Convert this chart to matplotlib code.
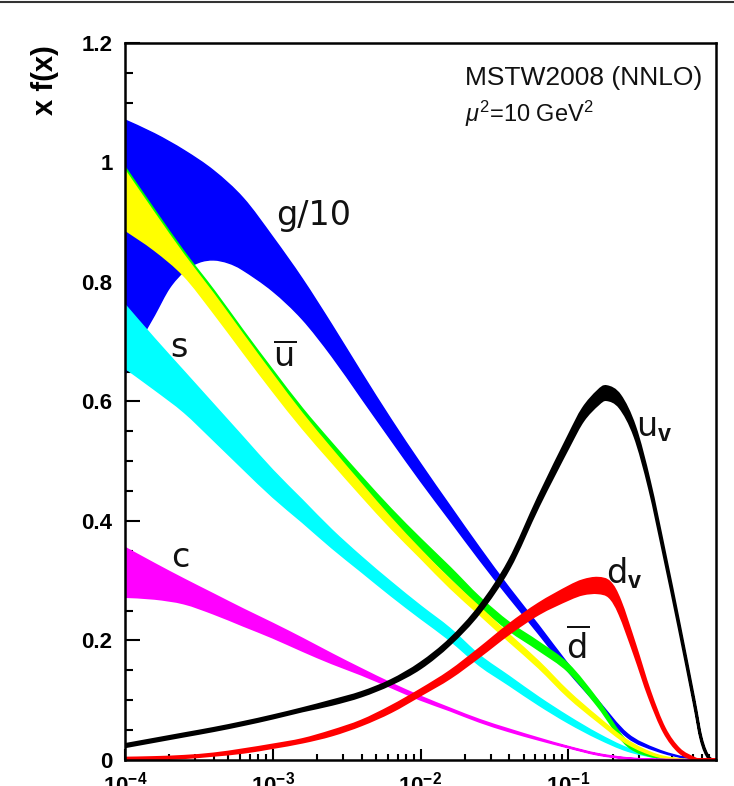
import numpy as np
import matplotlib
matplotlib.use("Agg")
import matplotlib.pyplot as plt
from matplotlib.lines import Line2D
from matplotlib.path import Path
from matplotlib.patches import PathPatch
from matplotlib.ticker import FixedLocator, NullFormatter

plt.rcParams['mathtext.fontset'] = 'custom'
plt.rcParams['mathtext.rm'] = 'Liberation Sans'
plt.rcParams['mathtext.it'] = 'Liberation Sans:italic'
plt.rcParams['mathtext.bf'] = 'Liberation Sans:bold'
plt.rcParams['mathtext.sf'] = 'DejaVu Sans'

# ---------------- data (log10 x sample points and x f(x) values) ----------------
# gluon / 10
g_hi_lx = [-4.0, -3.8, -3.6, -3.4, -3.2, -3.0, -2.8, -2.6, -2.4, -2.2, -2.0, -1.8, -1.6,
           -1.4, -1.2, -1.0, -0.8, -0.6, -0.4, -0.2, 0.0]
g_hi = [1.071, 1.048, 1.020, 0.986, 0.940, 0.875, 0.805, 0.728, 0.648, 0.570, 0.496, 0.425,
        0.355, 0.288, 0.225, 0.160, 0.100, 0.044, 0.018, 0.004, 0.0]
g_lo_lx = [-4.0, -3.9, -3.8, -3.7, -3.6, -3.5, -3.4, -3.3, -3.2, -3.0, -2.8, -2.6, -2.4, -2.2,
           -2.0, -1.8, -1.6, -1.4, -1.2, -1.0, -0.8, -0.6, -0.4, -0.2, 0.0]
g_lo = [0.645, 0.700, 0.745, 0.790, 0.818, 0.833, 0.837, 0.832, 0.820, 0.785, 0.738, 0.676,
        0.606, 0.536, 0.467, 0.401, 0.335, 0.272, 0.211, 0.148, 0.092, 0.038, 0.015, 0.003, 0.0]

# common grid for sea quarks
sea_lx = [-4.0, -3.8, -3.6, -3.4, -3.2, -3.0, -2.8, -2.6, -2.4, -2.2, -2.0, -1.8, -1.6,
          -1.4, -1.2, -1.0, -0.8, -0.6, -0.4, -0.2, 0.0]
ubar_hi = [0.987, 0.915, 0.845, 0.780, 0.712, 0.645, 0.580, 0.520, 0.462, 0.405, 0.352, 0.302,
           0.256, 0.210, 0.165, 0.115, 0.072, 0.033, 0.009, 0.001, 0.0]
ubar_lo = [0.887, 0.853, 0.810, 0.748, 0.682, 0.617, 0.555, 0.498, 0.442, 0.388, 0.338, 0.288,
           0.243, 0.198, 0.154, 0.105, 0.064, 0.027, 0.006, 0.0, 0.0]
dbar_hi = [0.992, 0.920, 0.850, 0.786, 0.718, 0.652, 0.588, 0.530, 0.474, 0.420, 0.370, 0.322,
           0.272, 0.230, 0.197, 0.160, 0.100, 0.030, 0.006, 0.0, 0.0]
dbar_lo = [0.890, 0.858, 0.815, 0.754, 0.690, 0.625, 0.564, 0.508, 0.454, 0.402, 0.354, 0.306,
           0.258, 0.217, 0.184, 0.148, 0.090, 0.024, 0.004, 0.0, 0.0]
s_hi = [0.762, 0.705, 0.650, 0.595, 0.540, 0.485, 0.435, 0.385, 0.340, 0.298, 0.258, 0.220,
        0.175, 0.140, 0.105, 0.073, 0.044, 0.020, 0.006, 0.001, 0.0]
s_lo = [0.656, 0.620, 0.582, 0.535, 0.487, 0.440, 0.398, 0.355, 0.315, 0.275, 0.237, 0.200,
        0.158, 0.125, 0.092, 0.062, 0.036, 0.015, 0.004, 0.0, 0.0]
c_hi = [0.355, 0.328, 0.302, 0.277, 0.252, 0.228, 0.203, 0.177, 0.152, 0.128, 0.106, 0.086,
        0.067, 0.051, 0.036, 0.022, 0.010, 0.003, 0.0005, 0.0, 0.0]
c_lo = [0.273, 0.270, 0.262, 0.245, 0.225, 0.205, 0.183, 0.162, 0.143, 0.122, 0.101, 0.083,
        0.064, 0.048, 0.034, 0.021, 0.009, 0.0025, 0.0003, 0.0, 0.0]

# valence quarks: central value and uncertainty
uv_lx = [-4.0, -3.8, -3.6, -3.4, -3.2, -3.0, -2.8, -2.6, -2.4, -2.2, -2.0, -1.8, -1.6, -1.4,
         -1.2, -1.0, -0.9, -0.8, -0.74, -0.65, -0.55, -0.45, -0.35, -0.25, -0.15, -0.1, -0.05, 0.0]
uv_mid = [0.024, 0.033, 0.042, 0.051, 0.061, 0.072, 0.084, 0.096, 0.110, 0.130, 0.158, 0.198,
          0.252, 0.327, 0.433, 0.532, 0.578, 0.606, 0.614, 0.600, 0.550, 0.460, 0.345, 0.225,
          0.100, 0.035, 0.004, 0.0]
uv_err = [0.002, 0.002, 0.002, 0.002, 0.002, 0.002, 0.002, 0.003, 0.003, 0.003, 0.004, 0.004,
          0.005, 0.006, 0.007, 0.009, 0.010, 0.011, 0.011, 0.010, 0.008, 0.006, 0.005, 0.004,
          0.003, 0.002, 0.001, 0.0]
dv_lx = [-4.0, -3.8, -3.6, -3.4, -3.2, -3.0, -2.8, -2.6, -2.4, -2.2, -2.0, -1.8, -1.6, -1.4,
         -1.2, -1.0, -0.9, -0.8, -0.72, -0.65, -0.55, -0.45, -0.35, -0.25, -0.15, -0.1, 0.0]
dv_mid = [0.002, 0.003, 0.005, 0.009, 0.015, 0.023, 0.032, 0.045, 0.062, 0.085, 0.113, 0.143,
          0.180, 0.219, 0.253, 0.279, 0.289, 0.292, 0.285, 0.255, 0.185, 0.110, 0.050, 0.016,
          0.002, 0.0, 0.0]
dv_err = [0.001, 0.001, 0.001, 0.001, 0.002, 0.002, 0.002, 0.003, 0.003, 0.004, 0.004, 0.005,
          0.006, 0.007, 0.008, 0.010, 0.011, 0.012, 0.012, 0.011, 0.008, 0.005, 0.003, 0.002,
          0.001, 0.0, 0.0]

y_ticks = [0, 0.2, 0.4, 0.6, 0.8, 1.0, 1.2]
y_ticklabels = ["0", "0.2", "0.4", "0.6", "0.8", "1", "1.2"]
x_ticks = [1e-4, 1e-3, 1e-2, 1e-1]
x_ticklabels = [r"$\mathbf{10^{-4}}$", r"$\mathbf{10^{-3}}$", r"$\mathbf{10^{-2}}$",
                r"$\mathbf{10^{-1}}$"]

# ---------------- figure ----------------
fig = plt.figure(figsize=(7.34, 7.86), dpi=100)
ax = fig.add_axes([0.1703, 0.0331, 0.8052, 0.9122])


def bezier_through(lx, v):
    """Smooth (Catmull-Rom style) cubic Bezier path pieces through the read points."""
    P = np.column_stack([np.asarray(lx, float), np.asarray(v, float)])
    n = len(P)
    verts, codes = [], []
    for i in range(n - 1):
        p0 = P[i - 1] if i > 0 else P[i]
        p1, p2 = P[i], P[i + 1]
        p3 = P[i + 2] if i + 2 < n else P[i + 1]
        c1 = p1 + (p2 - p0) / 6.0
        c2 = p2 - (p3 - p1) / 6.0
        verts += [c1, c2, p2]
        codes += [Path.CURVE4] * 3
    return verts, codes


def band(lx_hi, hi, lx_lo, lo, color, z, lw=1.1):
    v1, c1 = bezier_through(lx_hi, hi)
    v2, c2 = bezier_through(lx_lo[::-1], list(lo)[::-1])
    verts = [np.array([lx_hi[0], hi[0]])] + v1 + [np.array([lx_lo[-1], lo[-1]])] + v2 \
        + [np.array([lx_hi[0], hi[0]])]
    codes = [Path.MOVETO] + c1 + [Path.LINETO] + c2 + [Path.CLOSEPOLY]
    verts = np.array(verts)
    verts[:, 0] = 10.0 ** verts[:, 0]
    patch = PathPatch(Path(verts, codes), facecolor=color, edgecolor=color, lw=lw,
                      zorder=z, joinstyle='round')
    ax.add_patch(patch)


band(g_hi_lx, g_hi, g_lo_lx, g_lo, '#0000ff', 2)
band(sea_lx, s_hi, sea_lx, s_lo, '#00ffff', 3)
band(sea_lx, dbar_hi, sea_lx, dbar_lo, '#00ff00', 4, lw=1.4)
band(sea_lx, ubar_hi, sea_lx, ubar_lo, '#ffff00', 5)
band(sea_lx, c_hi, sea_lx, c_lo, '#ff00ff', 6, lw=1.6)
uvm, uve = np.asarray(uv_mid), np.asarray(uv_err)
band(uv_lx, list(uvm + uve), uv_lx, list(uvm - uve), '#000000', 7, lw=2.0)
dvm, dve = np.asarray(dv_mid), np.asarray(dv_err)
band(dv_lx, list(dvm + dve), dv_lx, list(dvm - dve), '#ff0000', 8, lw=2.2)

ax.set_xscale('log')
ax.set_xlim(1e-4, 1.0)
ax.set_ylim(0, 1.2)

ax.yaxis.set_major_locator(FixedLocator(y_ticks))
ax.set_yticklabels(y_ticklabels, fontfamily='Liberation Sans', fontweight='bold', fontsize=16)
ax.yaxis.set_minor_locator(FixedLocator(np.arange(0.05, 1.2, 0.05)))
ax.xaxis.set_major_locator(FixedLocator(x_ticks))
ax.set_xticklabels(x_ticklabels, fontsize=16)
minor_x = [m * 10.0 ** e for e in range(-4, 0) for m in range(2, 10)]
ax.xaxis.set_minor_locator(FixedLocator(minor_x))
ax.xaxis.set_minor_formatter(NullFormatter())

ax.tick_params(axis='y', which='major', direction='in', length=11, width=1.5, pad=9)
ax.tick_params(axis='y', which='minor', direction='in', length=6, width=1.5)
ax.tick_params(axis='x', which='major', direction='in', length=8, width=1.5, pad=8)
ax.tick_params(axis='x', which='minor', direction='in', length=4.5, width=1.5)
for sp in ax.spines.values():
    sp.set_linewidth(1.8)
    sp.set_zorder(20)

# labels on curves
lab = dict(fontfamily='DejaVu Sans', fontsize=24, color='#111111', zorder=30)
ax.text(10 ** -2.98, 0.912, "g/10", ha='left', va='center', **lab)
ax.text(10 ** -3.635, 0.691, "s", ha='center', va='center', **lab)
ax.text(10 ** -2.92, 0.675, r"$\overline{\mathsf{u}}$", ha='center', va='center', **lab)
ax.text(10 ** -3.628, 0.339, "c", ha='center', va='center', **lab)
ax.text(10 ** -0.42, 0.556, r"$\mathsf{u}_{\mathbf{v}}$", ha='center', va='center', **lab)
ax.text(10 ** -0.62, 0.313, r"$\mathsf{d}_{\mathbf{v}}$", ha='center', va='center', **lab)
ax.text(10 ** -0.939, 0.19, r"$\overline{\mathsf{d}}$", ha='center', va='center', **lab)

ax.text(10 ** -1.70, 1.142, "MSTW2008 (NNLO)", ha='left', va='center',
        fontfamily='Liberation Sans', fontsize=19, color='#111111')
ax.text(10 ** -1.70, 1.082, r"$\mu^{2}$=10 GeV$^{2}$", ha='left', va='center',
        fontfamily='Liberation Sans', fontsize=17, color='#111111')

fig.text(45 / 734, 1 - 80 / 786, "x f(x)", rotation=90, ha='center', va='center',
         fontfamily='Liberation Sans', fontweight='bold', fontsize=21)

fig.add_artist(Line2D([0, 1], [1 - 1.5 / 786, 1 - 1.5 / 786], color='#333333', lw=1.5,
                      transform=fig.transFigure))

fig.savefig("out.png", dpi=100)
